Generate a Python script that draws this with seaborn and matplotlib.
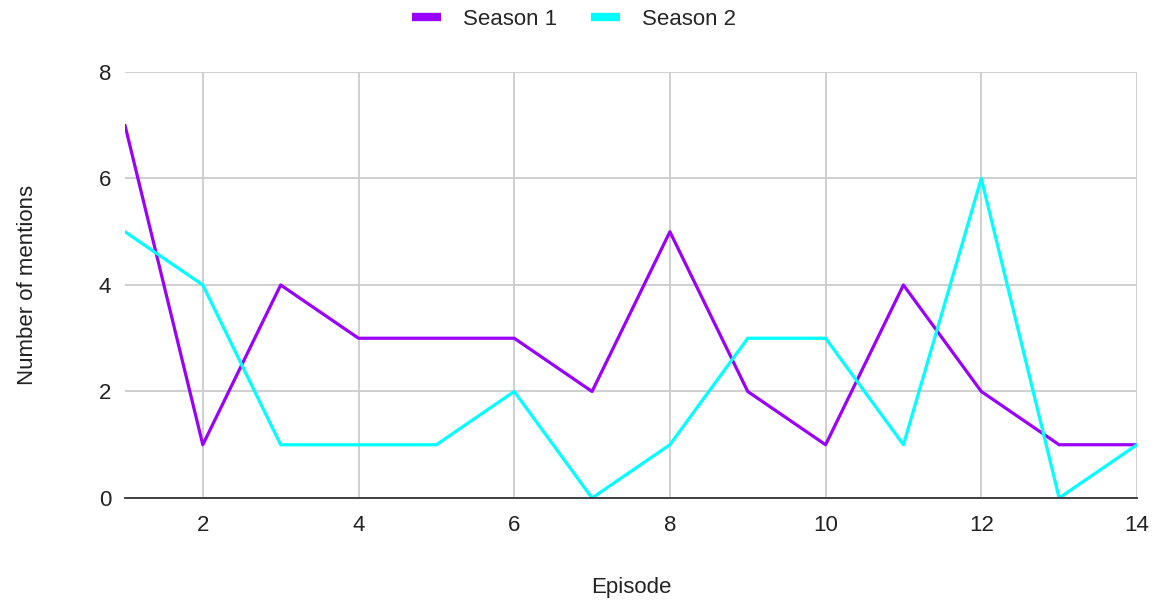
import matplotlib
matplotlib.use("Agg")
import matplotlib.pyplot as plt
import pandas as pd
import seaborn as sns

episodes = list(range(1, 15))
season1 = [7, 1, 4, 3, 3, 3, 2, 5, 2, 1, 4, 2, 1, 1]
season2 = [5, 4, 1, 1, 1, 2, 0, 1, 3, 3, 1, 6, 0, 1]
series_names = ["Season 1", "Season 2"]
colors = ["#9900ff", "#00ffff"]

df = pd.DataFrame({
    "Episode": episodes * 2,
    "Mentions": season1 + season2,
    "Series": [series_names[0]] * len(episodes) + [series_names[1]] * len(episodes),
})

sns.set_theme(style="white")
plt.rcParams["font.family"] = ["Liberation Sans", "DejaVu Sans"]

fig = plt.figure(figsize=(11.55, 6.01), dpi=100)
ax = fig.add_axes([0.1082, 0.1714, 0.8762, 0.7088])

sns.lineplot(data=df, x="Episode", y="Mentions", hue="Series",
             palette=dict(zip(series_names, colors)), linewidth=2.3,
             ax=ax, legend=False)

ax.set_xlim(1, 14)
ax.set_ylim(0, 8)
ax.set_xticks([2, 4, 6, 8, 10, 12, 14])
ax.set_yticks([0, 2, 4, 6, 8])
ax.grid(True, color="#cccccc", linewidth=1.3)
ax.set_axisbelow(True)
for side in ["left", "top", "right"]:
    ax.spines[side].set_visible(False)
ax.spines["bottom"].set_color("#333333")
ax.spines["bottom"].set_linewidth(1.3)
ax.tick_params(axis="both", length=0, labelsize=16, colors="#222222", pad=10)
ax.tick_params(axis="x", pad=12)
ax.set_xlabel("Episode", fontsize=16, color="#222222", labelpad=30)
ax.set_ylabel("Number of mentions", fontsize=16, color="#222222", labelpad=44)

handles = [plt.Line2D([0], [0], color=c, linewidth=6, solid_capstyle="butt")
           for c in colors]
fig.legend(handles, series_names, loc="upper center", bbox_to_anchor=(0.497, 1.018),
           ncol=2, frameon=False, fontsize=16, handlelength=1.3,
           columnspacing=1.5, handletextpad=1.0)

fig.savefig("out.png", dpi=100, facecolor="white")
